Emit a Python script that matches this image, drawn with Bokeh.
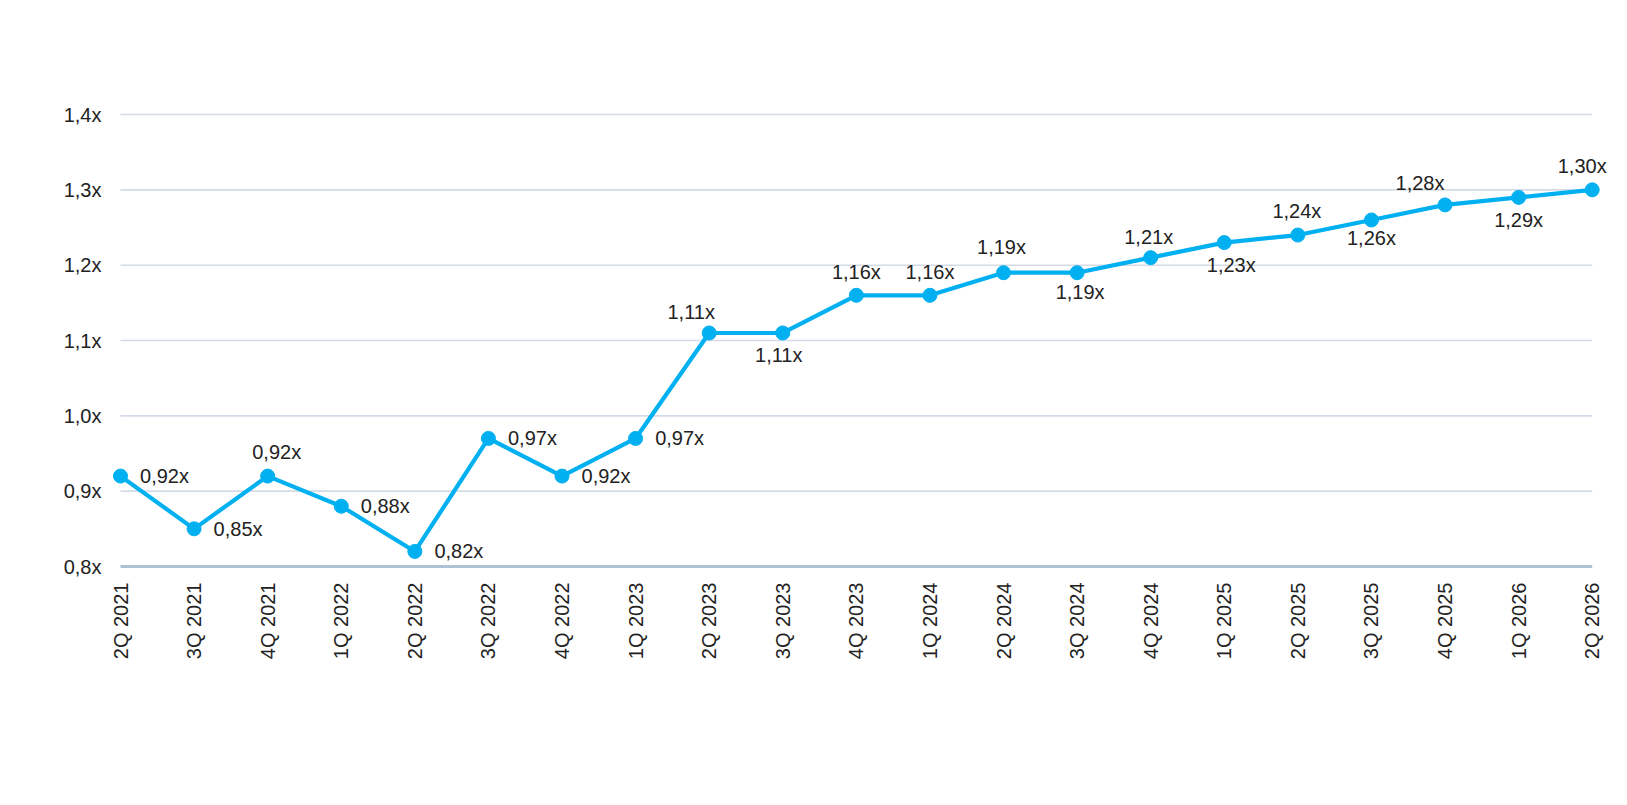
import math
from bokeh.plotting import figure
from bokeh.models import Range1d, FixedTicker, CustomJSTickFormatter, ColumnDataSource
from bokeh.core.properties import value
from bokeh.embed import file_html
from bokeh.resources import INLINE

# ---- data ----
quarters = ["2Q 2021", "3Q 2021", "4Q 2021", "1Q 2022", "2Q 2022", "3Q 2022",
            "4Q 2022", "1Q 2023", "2Q 2023", "3Q 2023", "4Q 2023", "1Q 2024",
            "2Q 2024", "3Q 2024", "4Q 2024", "1Q 2025", "2Q 2025", "3Q 2025",
            "4Q 2025", "1Q 2026", "2Q 2026"]
multiples = [0.92, 0.85, 0.92, 0.88, 0.82, 0.97, 0.92, 0.97, 1.11, 1.11, 1.16,
             1.16, 1.19, 1.19, 1.21, 1.23, 1.24, 1.26, 1.28, 1.29, 1.30]
y_ticks = [0.8, 0.9, 1.0, 1.1, 1.2, 1.3, 1.4]

# ---- label placement (screen px offsets, style only) ----
label_dx = [44, 44, 9, 44, 44, 44, 44, 44, -18, -4, 0, 0, -2, 3, -2, 7, -1, 0, -25, 0, -10]
label_dy = [0, 0, -24, 0, 0, 0, 0, 0, -21, 22, -23, -23, -26, 19, -21, 22, -24, 18, -22, 23, -24]

# ---- styles ----
LINE_COLOR = "#00B0F0"
GRID_COLOR = "#D3DCE6"
BASE_COLOR = "#AFC2D5"
TEXT_COLOR = "#222222"
FONT = "Liberation Sans"

# layout geometry (px)
FIG_W, FIG_H = 1619, 797
FRAME_L, FRAME_T = 104, 104
FRAME_W, FRAME_H = 1508, 465
PX_PER_X = 73.585
PX_PER_Y = 753.3
FIRST_X_PX = 120      # x of first point inside figure
BASE_Y_PX = 566       # y of 0.8 line inside figure

xs = list(range(len(quarters)))
x_start = xs[0] - (FIRST_X_PX - FRAME_L) / PX_PER_X
x_end = x_start + FRAME_W / PX_PER_X
y_start = y_ticks[0] - (FRAME_T + FRAME_H - BASE_Y_PX) / PX_PER_Y
y_end = y_start + FRAME_H / PX_PER_Y

p = figure(width=FIG_W, height=FIG_H,
           frame_width=FRAME_W, frame_height=FRAME_H,
           min_border_left=FRAME_L, min_border_top=FRAME_T,
           min_border_right=FIG_W - FRAME_L - FRAME_W,
           min_border_bottom=FIG_H - FRAME_T - FRAME_H,
           x_range=Range1d(x_start, x_end), y_range=Range1d(y_start, y_end),
           output_backend="svg", toolbar_location=None)
p.outline_line_color = None
p.background_fill_color = "white"
p.border_fill_color = "white"
p.xgrid.visible = False
p.ygrid.visible = False

# gridlines between first and last category
grid_src = ColumnDataSource(dict(x0=[xs[0]] * (len(y_ticks) - 1),
                                 x1=[xs[-1]] * (len(y_ticks) - 1),
                                 y=y_ticks[1:]))
p.segment(x0="x0", x1="x1", y0="y", y1="y", source=grid_src,
          line_color=GRID_COLOR, line_width=1.6)
p.segment(x0=[xs[0]], x1=[xs[-1]], y0=[y_ticks[0]], y1=[y_ticks[0]],
          line_color=BASE_COLOR, line_width=3)

src = ColumnDataSource(dict(
    x=xs, y=multiples,
    lbl=[("%.2f" % v).replace(".", ",") + "x" for v in multiples],
    dx=label_dx, dy=label_dy))

p.line("x", "y", source=src, line_color=LINE_COLOR, line_width=4.2)
p.scatter("x", "y", source=src, size=14, fill_color=LINE_COLOR, line_color=LINE_COLOR)
p.text("x", "y", text="lbl", source=src, x_offset="dx", y_offset="dy",
       text_align="center", text_baseline="middle",
       text_font=value(FONT), text_font_size="20px", text_color=TEXT_COLOR)

# axes
p.yaxis.ticker = FixedTicker(ticks=y_ticks)
p.yaxis.formatter = CustomJSTickFormatter(code="return tick.toFixed(1).replace('.', ',') + 'x';")
p.yaxis.axis_line_color = None
p.yaxis.major_tick_line_color = None
p.yaxis.minor_tick_line_color = None
p.yaxis.major_tick_out = 0
p.yaxis.major_tick_in = 0
p.yaxis.major_label_standoff = 3
p.yaxis.major_label_text_font = FONT
p.yaxis.major_label_text_font_size = "20px"
p.yaxis.major_label_text_color = TEXT_COLOR

p.xaxis.ticker = FixedTicker(ticks=xs)
p.xaxis.major_label_overrides = {i: q for i, q in zip(xs, quarters)}
p.xaxis.major_label_orientation = math.pi / 2
p.xaxis.axis_line_color = None
p.xaxis.major_tick_line_color = None
p.xaxis.minor_tick_line_color = None
p.xaxis.major_tick_out = 0
p.xaxis.major_tick_in = 0
p.xaxis.major_label_standoff = 13
p.xaxis.major_label_text_font = FONT
p.xaxis.major_label_text_font_size = "20px"
p.xaxis.major_label_text_color = TEXT_COLOR

open("out.html", "w").write(file_html(p, INLINE))
